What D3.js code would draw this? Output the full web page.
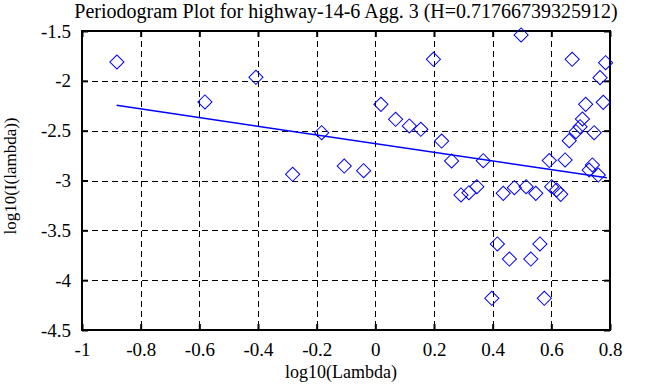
<!DOCTYPE html>
<html>
<head>
<meta charset="utf-8">
<script src="https://cdn.jsdelivr.net/npm/d3@7"></script>
<style>
  html, body { margin: 0; padding: 0; background: #fff; }
  svg { display: block; }
  text { font-family: "Liberation Serif", "Times New Roman", serif; fill: #000; }
</style>
</head>
<body>
<svg id="chart" width="658" height="387"></svg>
<script>
// ---- data ----
const titleText = "Periodogram Plot for highway-14-6 Agg. 3 (H=0.71766739325912)";
const xLabelText = "log10(Lambda)";
const yLabelText = "log10(I(lambda))";

const xTicks = [-1, -0.8, -0.6, -0.4, -0.2, 0, 0.2, 0.4, 0.6, 0.8];
const xTickLabels = ["-1", "-0.8", "-0.6", "-0.4", "-0.2", "0", "0.2", "0.4", "0.6", "0.8"];
const yTicks = [-4.5, -4, -3.5, -3, -2.5, -2, -1.5];
const yTickLabels = ["-4.5", "-4", "-3.5", "-3", "-2.5", "-2", "-1.5"];

const pointX = [-0.881, -0.581, -0.407, -0.282, -0.183, -0.106, -0.040, 0.019, 0.069, 0.116,
                0.155, 0.198, 0.226, 0.260, 0.292, 0.319, 0.346, 0.368, 0.397, 0.416,
                0.436, 0.457, 0.474, 0.497, 0.514, 0.530, 0.547, 0.561, 0.576, 0.593,
                0.601, 0.618, 0.632, 0.647, 0.661, 0.671, 0.684, 0.698, 0.706, 0.717,
                0.729, 0.740, 0.746, 0.760, 0.766, 0.777, 0.785];
const pointY = [-1.811, -2.212, -1.965, -2.938, -2.520, -2.855, -2.902, -2.236, -2.386, -2.453,
                -2.486, -1.784, -2.604, -2.804, -3.145, -3.122, -3.062, -2.801, -4.182, -3.637,
                -3.129, -3.788, -3.072, -1.540, -3.062, -3.788, -3.129, -3.637, -4.182, -2.800,
                -3.062, -3.095, -3.139, -2.794, -2.600, -1.784, -2.510, -2.460, -2.383, -2.236,
                -2.895, -2.844, -2.520, -2.945, -1.968, -2.216, -1.818];

const fitX = [-0.882, 0.789];
const fitY = [-2.246, -2.973];

// ---- layout ----
const L = 82, R = 610, T = 31, B = 330;
const FONT = '"Liberation Serif", "Times New Roman", serif';
const svg = d3.select("#chart");

const x = d3.scaleLinear().domain([-1, 0.8]).range([L, R]);
const y = d3.scaleLinear().domain([-4.5, -1.5]).range([B, T]);

// grid
const grid = svg.append("g").attr("stroke", "#000").attr("stroke-width", 1)
  .attr("stroke-dasharray", "6,4").attr("fill", "none");
grid.selectAll("line.vx").data(xTicks.slice(1, -1)).join("line")
  .attr("x1", d => Math.round(x(d)) + 0.5).attr("x2", d => Math.round(x(d)) + 0.5)
  .attr("y1", T).attr("y2", B);
grid.selectAll("line.hy").data(yTicks.slice(1, -1)).join("line")
  .attr("y1", d => Math.round(y(d)) + 0.5).attr("y2", d => Math.round(y(d)) + 0.5)
  .attr("x1", L).attr("x2", R);

// axes
const fmtX = (d, i) => xTickLabels[i];
const fmtY = (d, i) => yTickLabels[i];

const gx = svg.append("g").attr("transform", `translate(0,${B})`)
  .call(d3.axisBottom(x).tickValues(xTicks).tickFormat(fmtX).tickSizeInner(-6).tickSizeOuter(0).tickPadding(13));
const gxTop = svg.append("g").attr("transform", `translate(0,${T})`)
  .call(d3.axisTop(x).tickValues(xTicks).tickFormat("").tickSizeInner(-6).tickSizeOuter(0));
const gy = svg.append("g").attr("transform", `translate(${L},0)`)
  .call(d3.axisLeft(y).tickValues(yTicks).tickFormat(fmtY).tickSizeInner(-6).tickSizeOuter(0).tickPadding(11));
const gyR = svg.append("g").attr("transform", `translate(${R},0)`)
  .call(d3.axisRight(y).tickValues(yTicks).tickFormat("").tickSizeInner(-6).tickSizeOuter(0));

[gx, gxTop, gy, gyR].forEach(g => {
  g.attr("font-family", FONT).attr("font-size", 19);
  g.select(".domain").remove();
  g.selectAll(".tick line").attr("stroke", "#000").attr("stroke-width", 2);
  g.selectAll("text").attr("font-size", 19)
    .style("font-family", FONT).attr("fill", "#000");
});

// frame
svg.append("rect").attr("x", L).attr("y", T).attr("width", R - L).attr("height", B - T)
  .attr("fill", "none").attr("stroke", "#000").attr("stroke-width", 2);

// fit line
const line = d3.line().x(d => x(d[0])).y(d => y(d[1]));
svg.append("path").datum(d3.zip(fitX, fitY)).attr("d", line)
  .attr("fill", "none").attr("stroke", "#0000ff").attr("stroke-width", 1.5);

// points (diamonds)
const sym = d3.symbol().type(d3.symbolSquare).size(100);
svg.append("g").selectAll("path").data(d3.zip(pointX, pointY)).join("path")
  .attr("d", sym)
  .attr("transform", d => `translate(${x(d[0])},${y(d[1])}) rotate(45)`)
  .attr("fill", "none").attr("stroke", "#0000ff").attr("stroke-width", 1);

// title and labels
svg.append("text").attr("x", 346).attr("y", 18).attr("text-anchor", "middle")
  .attr("font-size", 20).text(titleText);
svg.append("text").attr("x", 341).attr("y", 378).attr("text-anchor", "middle")
  .attr("font-size", 18).text(xLabelText);
svg.append("text").attr("transform", "translate(16,176) rotate(-90)").attr("text-anchor", "middle")
  .attr("font-size", 17).text(yLabelText);
</script>
</body>
</html>
